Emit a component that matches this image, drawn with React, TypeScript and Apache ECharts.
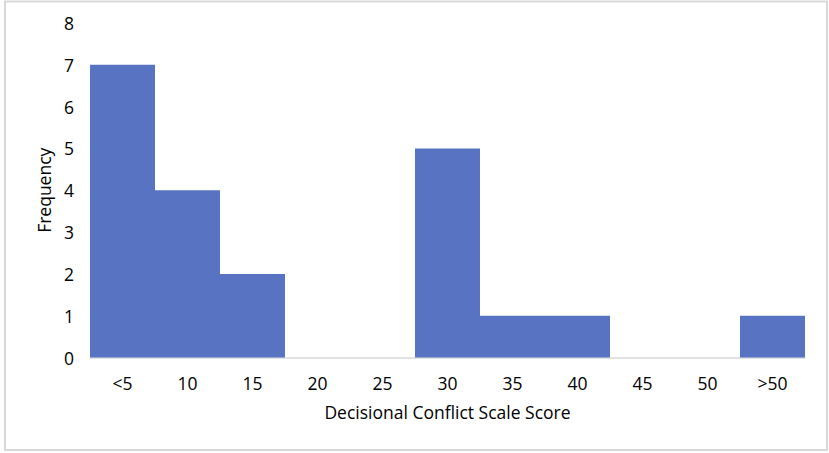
import React, { useEffect, useRef } from "react";
import * as echarts from "echarts";

const categories = ["<5", "10", "15", "20", "25", "30", "35", "40", "45", "50", ">50"];
const frequency = [7, 4, 2, 0, 0, 5, 1, 1, 0, 0, 1];
const xTitle = "Decisional Conflict Scale Score";
const yTitle = "Frequency";

export default function App() {
  const ref = useRef<HTMLDivElement>(null);
  useEffect(() => {
    if (!ref.current) return;
    const chart = echarts.init(ref.current, null, { renderer: "svg" });
    const font = "'Open Sans', 'Noto Sans', sans-serif";
    const fs = 17.5;
    chart.setOption({
      animation: false,
      backgroundColor: "#ffffff",
      textStyle: { fontFamily: font },
      graphic: [
        {
          type: "rect",
          shape: { x: 5, y: 1.5, width: 822, height: 448.5 },
          style: { fill: "none", stroke: "#d9d9d9", lineWidth: 2 },
          silent: true,
        },
      ],
      grid: { left: 90, right: 24, top: 23, bottom: 95.5, containLabel: false },
      xAxis: {
        type: "category",
        data: categories,
        name: xTitle,
        nameLocation: "middle",
        nameGap: 45,
        nameTextStyle: { fontSize: fs, color: "#000", fontFamily: font },
        axisLine: { show: true, lineStyle: { color: "#d9d9d9", width: 1.5 } },
        axisTick: { show: false },
        axisLabel: { fontSize: fs, color: "#000", margin: 16, fontFamily: font },
      },
      yAxis: {
        type: "value",
        min: 0,
        max: 8,
        interval: 1,
        name: yTitle,
        nameLocation: "middle",
        nameGap: 36,
        nameTextStyle: { fontSize: fs, color: "#000", fontFamily: font },
        splitLine: { show: false },
        axisLine: { show: false },
        axisTick: { show: false },
        axisLabel: { fontSize: fs, color: "#000", margin: 16, fontFamily: font },
      },
      series: [
        {
          type: "bar",
          data: frequency,
          barCategoryGap: "0%",
          itemStyle: { color: "#5773c1" },
        },
      ],
    });
    return () => chart.dispose();
  }, []);
  return (
    <div
      ref={ref}
      style={{ position: "fixed", left: 0, top: 0, width: 829, height: 453 }}
    />
  );
}
